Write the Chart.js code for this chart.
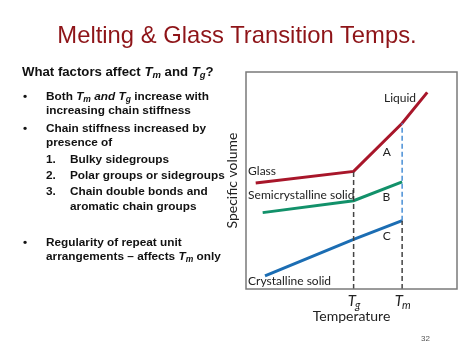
<!DOCTYPE html>
<html>
<head>
<meta charset="utf-8">
<script src="https://cdn.jsdelivr.net/npm/chart.js"></script>
<style>
  html, body { margin:0; padding:0; background:#fff; }
  #wrap { position:relative; width:474px; height:355px; overflow:hidden; }
  canvas { position:absolute; left:0; top:0; }
  .t { position:absolute; font-family:"Liberation Sans", Arial, sans-serif; font-weight:bold; font-size:11.8px; line-height:14px; color:#111; white-space:nowrap; }
  .t sub { font-size:8.5px; vertical-align:-2px; }
  .h { font-size:13.2px; }
  .h sub { font-size:9.5px; }
  #title { position:absolute; left:0; width:474px; top:23px; text-align:center; font-family:"Liberation Sans", Arial, sans-serif; font-size:23.8px; line-height:24px; color:#8e1418; }
  #pg { position:absolute; left:421px; top:334px; font-family:"Liberation Sans", Arial, sans-serif; font-size:8px; color:#555; }
</style>
</head>
<body>
<div id="wrap">
<canvas id="c" width="474" height="355"></canvas>
<div id="title">Melting &amp; Glass Transition Temps.</div>
<div class="t h" style="left:22px;top:65px;">What factors affect <i>T</i><sub><i>m</i></sub> and <i>T</i><sub><i>g</i></sub>?</div>
<div class="t" style="left:23px;top:89px;">•</div>
<div class="t" style="left:46px;top:89px;">Both <i>T</i><sub><i>m</i></sub> <i>and T</i><sub><i>g</i></sub> increase with</div>
<div class="t" style="left:46px;top:103px;">increasing chain stiffness</div>
<div class="t" style="left:23px;top:121px;">•</div>
<div class="t" style="left:46px;top:121px;">Chain stiffness increased by</div>
<div class="t" style="left:46px;top:135px;">presence of</div>
<div class="t" style="left:46px;top:152px;">1.</div>
<div class="t" style="left:70px;top:152px;">Bulky sidegroups</div>
<div class="t" style="left:46px;top:168px;">2.</div>
<div class="t" style="left:70px;top:168px;">Polar groups or sidegroups</div>
<div class="t" style="left:46px;top:184px;">3.</div>
<div class="t" style="left:70px;top:184px;">Chain double bonds and</div>
<div class="t" style="left:70px;top:199px;">aromatic chain groups</div>
<div class="t" style="left:23px;top:235px;">•</div>
<div class="t" style="left:46px;top:235px;">Regularity of repeat unit</div>
<div class="t" style="left:46px;top:249px;">arrangements – affects <i>T</i><sub><i>m</i></sub> only</div>
<div id="pg">32</div>
</div>
<script>
// ---- data (arbitrary temperature / specific-volume units) ----
const Tg = 51;
const Tm = 74;
const tickValues = [Tg, Tm];
const tickMain = ['T', 'T'];
const tickSub = ['g', 'm'];

const glassX = [4.6, 51, 74, 85.9];
const glassY = [48.8, 54.2, 76.4, 90.6];
const semiX = [7.9, 51, 74];
const semiY = [35.2, 40.7, 49.4];
const crystX = [9, 51, 74];
const crystY = [6.1, 22.9, 31.5];

const labelTexts = ['Liquid', 'Glass', 'Semicrystalline solid', 'Crystalline solid', 'A', 'B', 'C'];
const labelX = [73, 1, 1, 1, 66.7, 66.5, 66.7];
const labelY = [88, 54.4, 43.3, 3.8, 63.1, 42.4, 24.4];
const labelAlign = ['center', 'left', 'left', 'left', 'center', 'center', 'center'];

const pts = (xs, ys) => xs.map((x, i) => ({x: x, y: ys[i]}));

const RED = '#a8162a', GREEN = '#12916a', BLUE = '#1b6db3';
const FONT = 'Lato, "Open Sans", sans-serif';

const overlay = {
  id: 'overlay',
  afterDatasetsDraw(chart) {
    const {ctx, chartArea: a, scales: {x, y}} = chart;
    ctx.save();
    ctx.strokeStyle = '#7a7a7a';
    ctx.lineWidth = 1.5;
    ctx.strokeRect(a.left, a.top, a.right - a.left, a.bottom - a.top);
    // annotation labels
    ctx.fillStyle = '#222';
    ctx.font = '12px ' + FONT;
    ctx.textBaseline = 'middle';
    labelTexts.forEach((t, i) => {
      ctx.textAlign = labelAlign[i];
      ctx.fillText(t, x.getPixelForValue(labelX[i]), y.getPixelForValue(labelY[i]));
    });
    // tick labels with subscripts
    ctx.textAlign = 'left';
    ctx.textBaseline = 'alphabetic';
    tickValues.forEach((v, i) => {
      const px = x.getPixelForValue(v);
      ctx.font = 'italic 15px ' + FONT;
      const w1 = ctx.measureText(tickMain[i]).width;
      ctx.font = 'italic 11px ' + FONT;
      const w2 = ctx.measureText(tickSub[i]).width;
      const start = px - (w1 + w2) / 2 + 1;
      ctx.font = 'italic 15px ' + FONT;
      ctx.fillText(tickMain[i], start, a.bottom + 17);
      ctx.font = 'italic 11px ' + FONT;
      ctx.fillText(tickSub[i], start + w1 - 1, a.bottom + 20);
    });
    ctx.restore();
  }
};

new Chart(document.getElementById('c'), {
  type: 'scatter',
  data: {
    datasets: [
      { data: [{x: Tg, y: 0}, {x: Tg, y: glassY[1]}], borderColor: '#444', borderWidth: 1.5, borderDash: [5, 3], showLine: true, pointRadius: 0 },
      { data: [{x: Tm, y: 0}, {x: Tm, y: crystY[2]}], borderColor: '#444', borderWidth: 1.5, borderDash: [5, 3], showLine: true, pointRadius: 0 },
      { data: [{x: Tm, y: crystY[2]}, {x: Tm, y: glassY[2]}], borderColor: '#4a8fd6', borderWidth: 1.5, borderDash: [5, 3], showLine: true, pointRadius: 0 },
      { data: pts(glassX, glassY), borderColor: RED, borderWidth: 3, showLine: true, pointRadius: 0 },
      { data: pts(semiX, semiY), borderColor: GREEN, borderWidth: 3, showLine: true, pointRadius: 0 },
      { data: pts(crystX, crystY), borderColor: BLUE, borderWidth: 3, showLine: true, pointRadius: 0 }
    ]
  },
  options: {
    responsive: false,
    animation: false,
    layout: { padding: { left: 220, top: 72, right: 17, bottom: 26 } },
    plugins: { legend: { display: false }, tooltip: { enabled: false } },
    scales: {
      x: {
        type: 'linear', min: 0, max: 100,
        grid: { display: false },
        border: { display: false },
        ticks: { display: false },
        title: { display: true, text: 'Temperature', font: { family: FONT, size: 14 }, color: '#222', padding: { top: 0, bottom: 4 } },
        afterFit: s => { s.height = 40; }
      },
      y: {
        type: 'linear', min: 0, max: 100,
        grid: { display: false },
        border: { display: false },
        ticks: { display: false },
        title: { display: true, text: 'Specific volume', font: { family: FONT, size: 14 }, color: '#222', padding: { top: 4, bottom: 0 } },
        afterFit: s => { s.width = 26; }
      }
    }
  },
  plugins: [overlay]
});
</script>
</body>
</html>
